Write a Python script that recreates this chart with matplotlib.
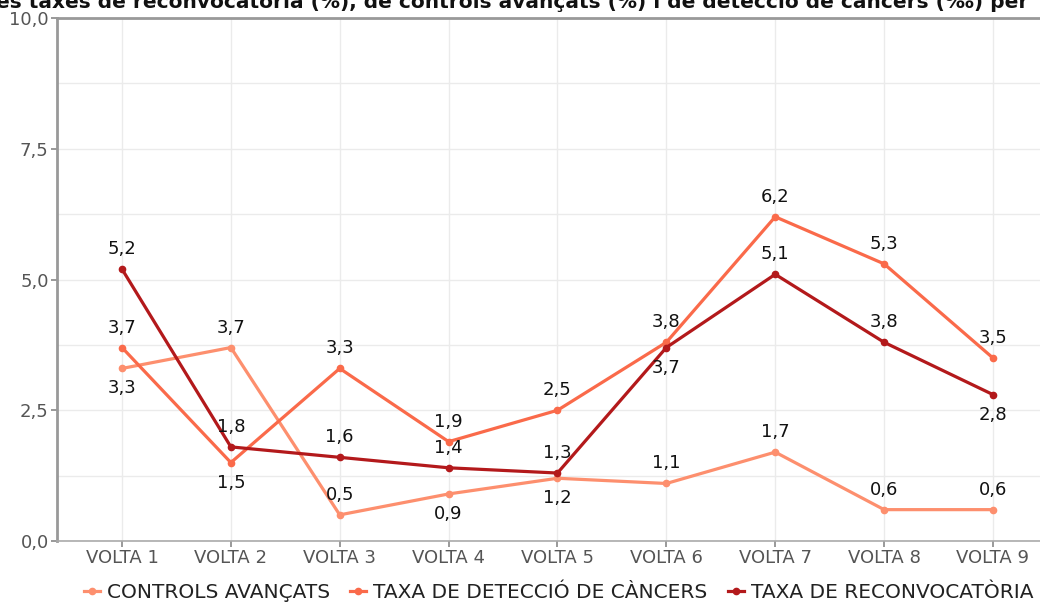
import numpy as np
import matplotlib
matplotlib.use("Agg")
from matplotlib import pyplot as plt

# data
voltes = ["VOLTA 1", "VOLTA 2", "VOLTA 3", "VOLTA 4", "VOLTA 5",
          "VOLTA 6", "VOLTA 7", "VOLTA 8", "VOLTA 9"]
controls = [3.3, 3.7, 0.5, 0.9, 1.2, 1.1, 1.7, 0.6, 0.6]
deteccio = [3.7, 1.5, 3.3, 1.9, 2.5, 3.8, 6.2, 5.3, 3.5]
reconv = [5.2, 1.8, 1.6, 1.4, 1.3, 3.7, 5.1, 3.8, 2.8]
# label placement: +1 above, -1 below
pos_controls = [-1, 1, 1, -1, -1, 1, 1, 1, 1]
pos_deteccio = [1, -1, 1, 1, 1, 1, 1, 1, 1]
pos_reconv = [1, 1, 1, 1, 1, -1, 1, 1, -1]

noms = ["CONTROLS AVANÇATS", "TAXA DE DETECCIÓ DE CÀNCERS", "TAXA DE RECONVOCATÒRIA"]
colors = ["#fd8f6e", "#fa6a4a", "#b3191b"]

fig = plt.figure(figsize=(10.4, 6.03), dpi=100)
ax = fig.add_axes([0.0548, 0.1028, 0.9452, 0.8672])

x = np.arange(len(voltes))
series = [(controls, pos_controls), (deteccio, pos_deteccio), (reconv, pos_reconv)]
for (vals, poss), col, nom in zip(series, colors, noms):
    ax.plot(x, vals, color=col, lw=2.3, marker="o", ms=4.5, label=nom, zorder=3)
    for xi, v, p in zip(x, vals, poss):
        off = 20 if p > 0 else -20
        ax.annotate(f"{v:.1f}".replace(".", ","), (xi, v), xytext=(0, off),
                    textcoords="offset pixels",
                    ha="center", va="center", fontsize=13, color="#111111",
                    zorder=4)

ax.set_xlim(-0.597, 8.432)
ax.set_ylim(0, 10)
ax.set_xticks(x)
ax.set_xticklabels(voltes, fontsize=13, color="#555555")
ax.set_yticks([0, 2.5, 5, 7.5, 10])
ax.set_yticklabels(["0,0", "2,5", "5,0", "7,5", "10,0"], fontsize=13,
                   color="#555555")
ax.set_yticks(np.arange(0, 10.01, 1.25), minor=True)
ax.tick_params(axis="y", which="minor", length=0)
ax.tick_params(axis="both", which="major", length=4, color="#888888", width=1.2,
               pad=2)
ax.grid(True, which="both", color="#ebebeb", lw=1)
ax.set_axisbelow(True)

ax.spines["right"].set_visible(False)
for s in ["left", "top"]:
    ax.spines[s].set_color("#999999")
    ax.spines[s].set_linewidth(2)
ax.spines["bottom"].set_color("#aaaaaa")
ax.spines["bottom"].set_linewidth(1.2)

fig.text(-0.004, 0.986, "es taxes de reconvocatòria (%), de controls avançats (%) i de detecció de càncers (‰) per",
         ha="left", va="baseline", fontsize=14.5, fontweight="bold", color="#111111")

leg = fig.legend(loc="center", bbox_to_anchor=(0.537, 0.018), ncol=3, frameon=False,
                 handlelength=0.8, handletextpad=0.35, columnspacing=1.0,
                 fontsize=14.5)
for t in leg.get_texts():
    t.set_color("#222222")

fig.savefig("out.png", dpi=100)
